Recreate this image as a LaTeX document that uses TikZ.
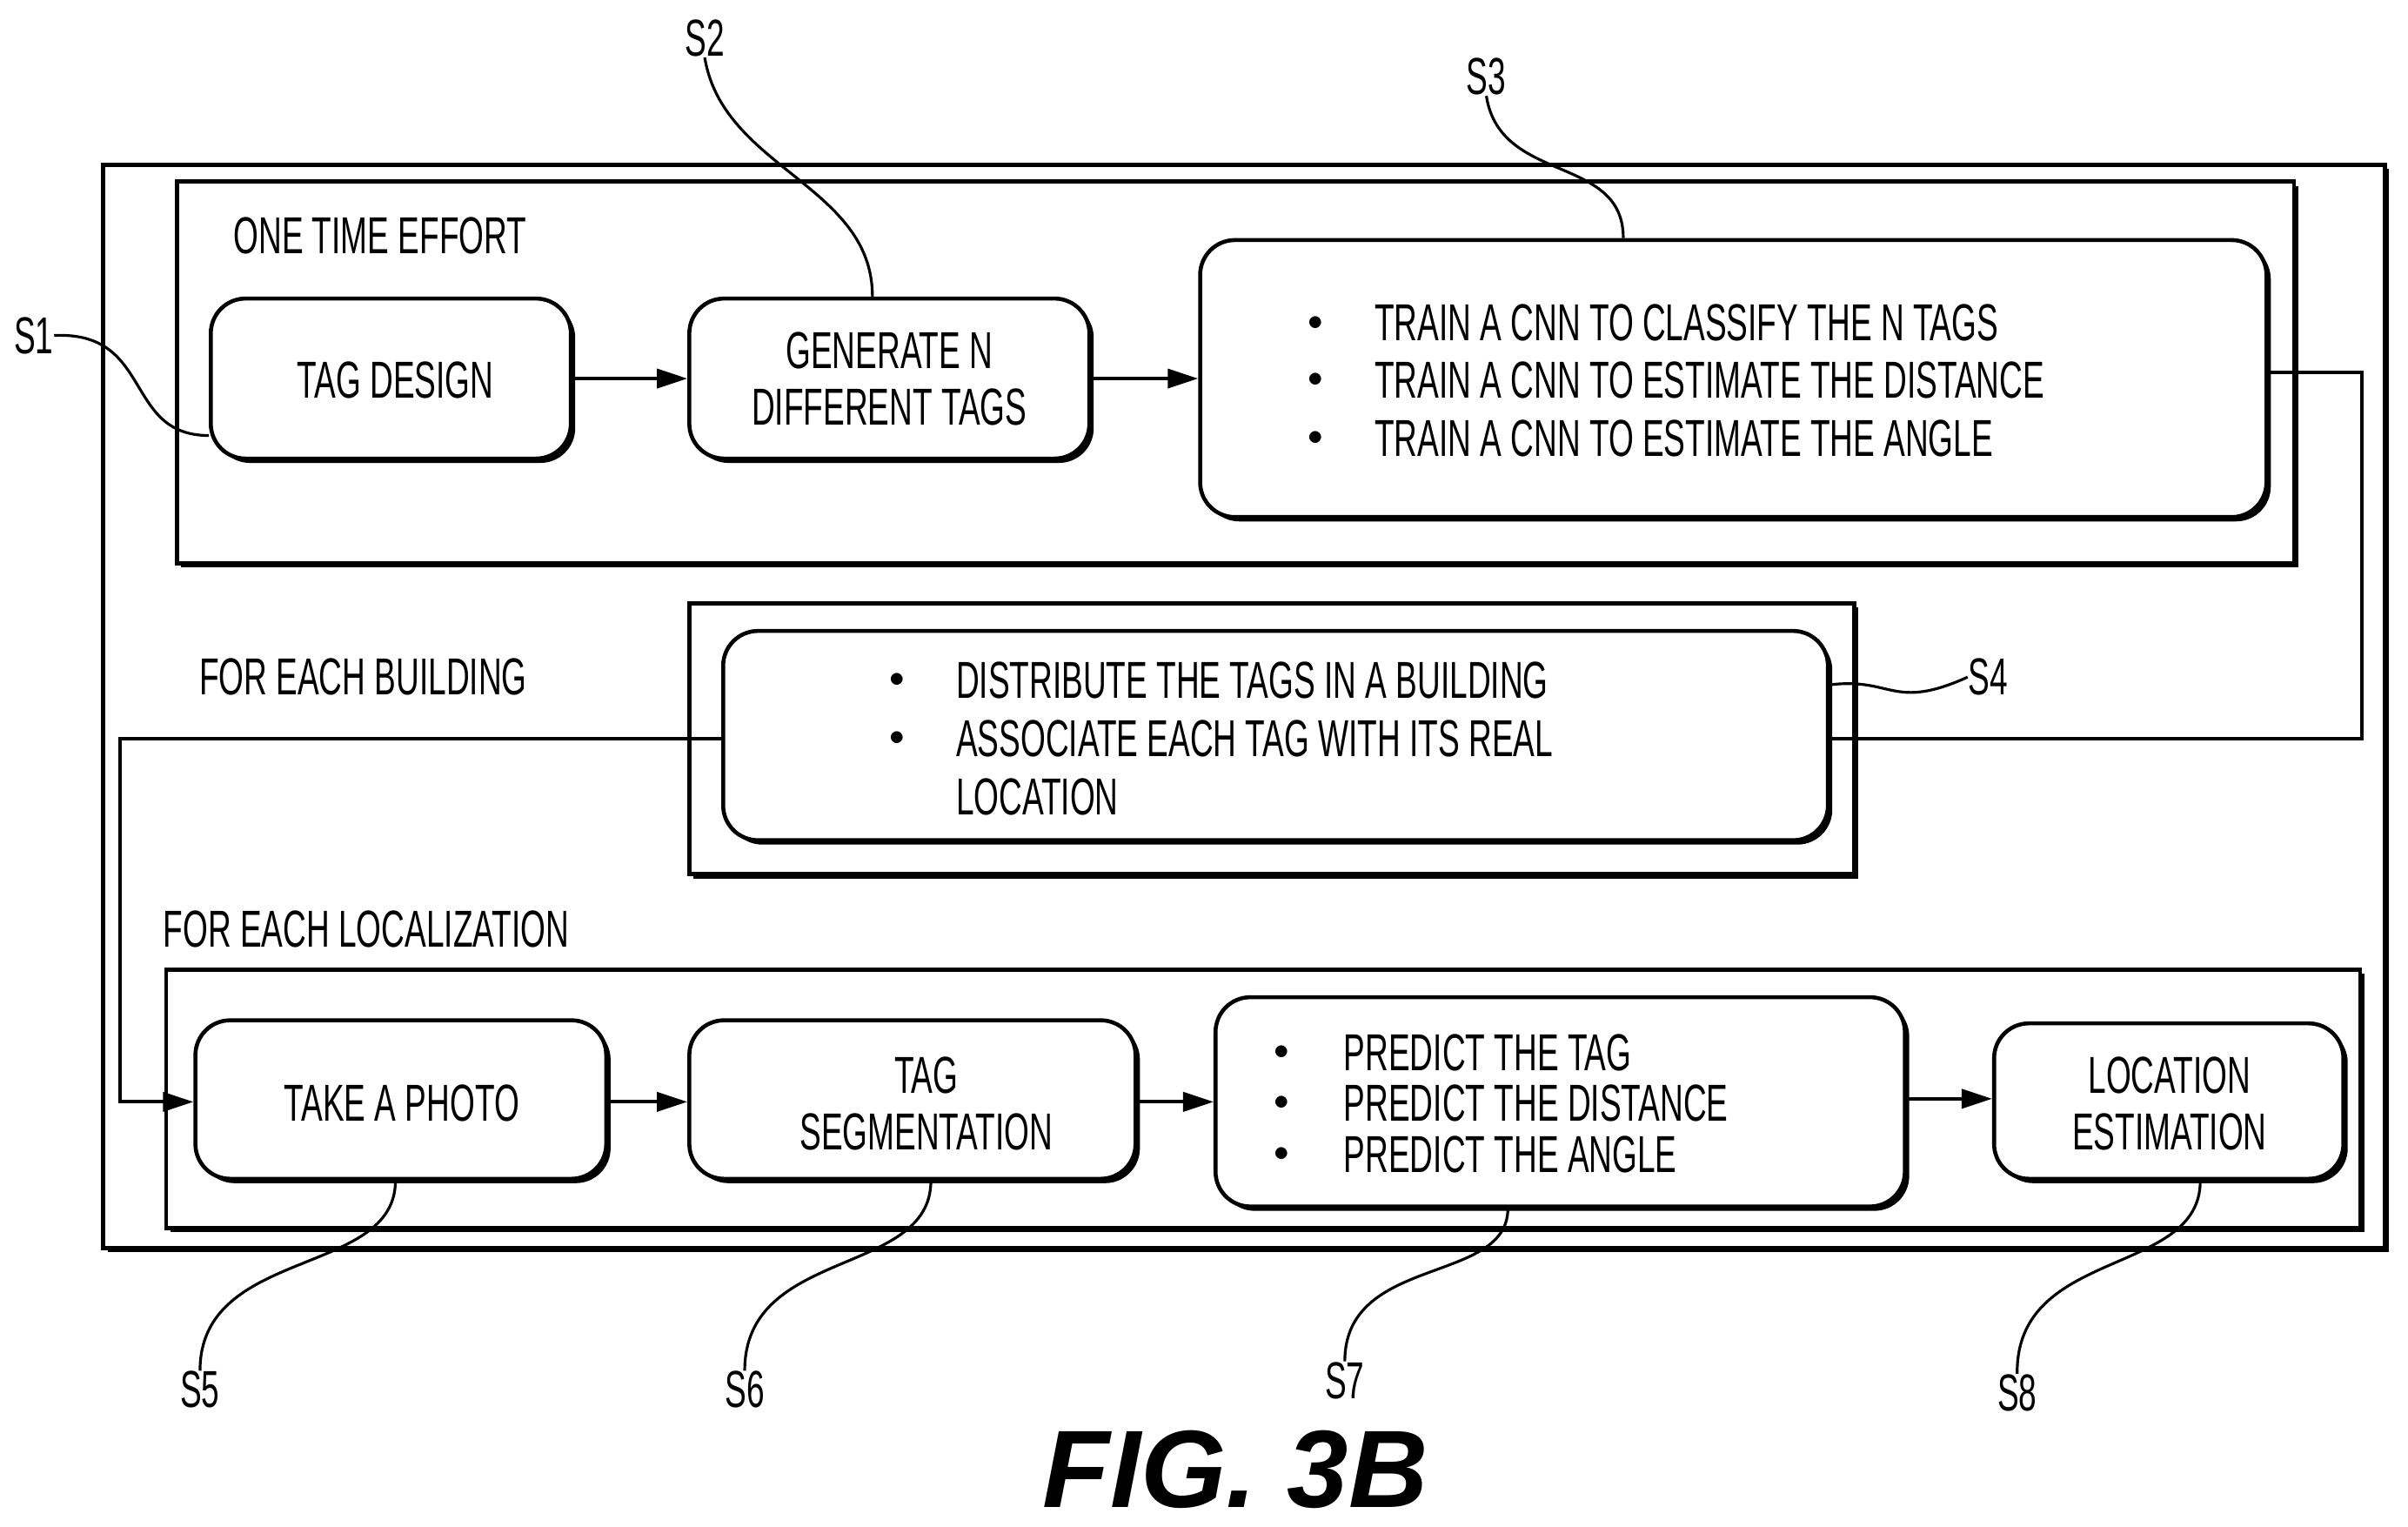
\documentclass[tikz,border=0pt]{standalone}
\usepackage{fontspec}
\setmainfont{Liberation Sans}[FakeStretch=0.62]
\newfontfamily\figfont{Liberation Sans}
\usetikzlibrary{fit,shadows,arrows.meta}
\begin{document}
\begin{tikzpicture}[x=0.01769cm,y=-0.01769cm,
 frame/.style={draw,line width=1.3pt,fill=white,inner sep=0pt,
   drop shadow={shadow xshift=0.05cm,shadow yshift=-0.05cm,fill=black,opacity=1}},
 box/.style={frame,rounded corners=0.4cm},
 txt/.style={font=\fontsize{17}{18.5}\selectfont,inner sep=0pt,align=center},
 lst/.style={txt,align=left,anchor=west},
 bul/.style={font=\fontsize{10}{12}\selectfont,inner sep=0pt},
 con/.style={line width=1.1pt},
 arr/.style={con,-{Triangle[length=0.35cm,width=0.22cm]}},
 lead/.style={line width=0.9pt}]
\useasboundingbox (0,0) rectangle (1565,992);
\node[frame,fit={(67,107)(1550,811)}] (outer) {};
\node[frame,fit={(115,118)(1491,366)}] (onetime) {};
\node[frame,fit={(448,392)(1205,568)}] (building) {};
\node[frame,fit={(108,630)(1534,798)}] (local) {};
\node[txt] (t1) at (247,153) {ONE TIME EFFORT};
\node[txt] (t2) at (236,440) {FOR EACH BUILDING};
\node[txt] (t3) at (238,604) {FOR EACH LOCALIZATION};
\node[box,fit={(137,194)(371,298)}] (s1) {};
\node[box,fit={(448,194)(708,298)}] (s2) {};
\node[box,fit={(780,156)(1473,336)}] (s3) {};
\node[box,fit={(470,410)(1188,546)}] (s4) {};
\node[box,fit={(127,663)(394,766)}] (s5) {};
\node[box,fit={(448,663)(738,766)}] (s6) {};
\node[box,fit={(790,648)(1238,784)}] (s7) {};
\node[box,fit={(1296,665)(1523,766)}] (s8) {};
\node[txt] (s1t) at (257,247) {TAG DESIGN};
\node[txt] (s2t) at (578,246) {GENERATE N\\DIFFERENT TAGS};
\node[txt] (s5t) at (261,717) {TAKE A PHOTO};
\node[txt] (s6t) at (602,717) {TAG\\SEGMENTATION};
\node[txt] (s8t) at (1410,717) {LOCATION\\ESTIMATION};
% lists
\foreach \y/\t [count=\i] in {210/TRAIN A CNN TO CLASSIFY THE N TAGS,247/TRAIN A CNN TO ESTIMATE THE DISTANCE,285/TRAIN A CNN TO ESTIMATE THE ANGLE}{
 \node[bul] (b3\i) at (855,\y) {$\bullet$}; \node[lst] (l3\i) at (893,\y) {\t};}
\foreach \y/\t [count=\i] in {442/DISTRIBUTE THE TAGS IN A BUILDING,480/ASSOCIATE EACH TAG WITH ITS REAL}{
 \node[bul] (b4\i) at (583,\y) {$\bullet$}; \node[lst] (l4\i) at (621,\y) {\t};}
\node[lst] (l43) at (621,518) {LOCATION};
\foreach \y/\t [count=\i] in {684/PREDICT THE TAG,717/PREDICT THE DISTANCE,750/PREDICT THE ANGLE}{
 \node[bul] (b7\i) at (833,\y) {$\bullet$}; \node[lst] (l7\i) at (873,\y) {\t};}
% connectors
\draw[arr] (s1.east|-0,246) -- (s2.west|-0,246);
\draw[arr] (s2.east|-0,246) -- (s3.west|-0,246);
\draw[con] (s3.east|-0,242) -- (1535,242) -- (1535,480) -- (s4.east|-0,480);
\draw[arr] (s4.west|-0,480) -- (78,480) -- (78,716) -- (s5.west|-0,716);
\draw[arr] (s5.east|-0,716) -- (s6.west|-0,716);
\draw[arr] (s6.east|-0,716) -- (s7.west|-0,716);
\draw[arr] (s7.east|-0,714) -- (s8.west|-0,714);
% labels
\node[txt] (S1) at (22,218) {S1};
\node[txt] (S2) at (458,25) {S2};
\node[txt] (S3) at (966,50) {S3};
\node[txt] (S4) at (1292,440) {S4};
\node[txt] (S5) at (130,903) {S5};
\node[txt] (S6) at (484,903) {S6};
\node[txt] (S7) at (874,897) {S7};
\node[txt] (S8) at (1311,905) {S8};
\draw[lead] (S1.east) .. controls (100,215) and (80,283) .. (s1.west|-0,283);
\draw[lead] (S2.south) .. controls (470,110) and (567,120) .. (s2.north-|567,0);
\draw[lead] (S3.south) .. controls (975,120) and (1055,100) .. (s3.north-|1055,0);
\draw[lead] (S4.west) .. controls (1230,462) and (1230,440) .. (s4.east|-0,445);
\draw[lead] (S5.north) .. controls (130,810) and (257,830) .. (s5.south-|257,0);
\draw[lead] (S6.north) .. controls (484,810) and (605,830) .. (s6.south-|605,0);
\draw[lead] (S7.north) .. controls (874,815) and (980,835) .. (s7.south-|980,0);
\draw[lead] (S8.north) .. controls (1310,810) and (1430,830) .. (s8.south-|1430,0);
\node[font=\figfont\fontsize{36}{40}\selectfont\bfseries\itshape,inner sep=0pt] (fig) at (803,955) {FIG. 3B};
\end{tikzpicture}
\end{document}
